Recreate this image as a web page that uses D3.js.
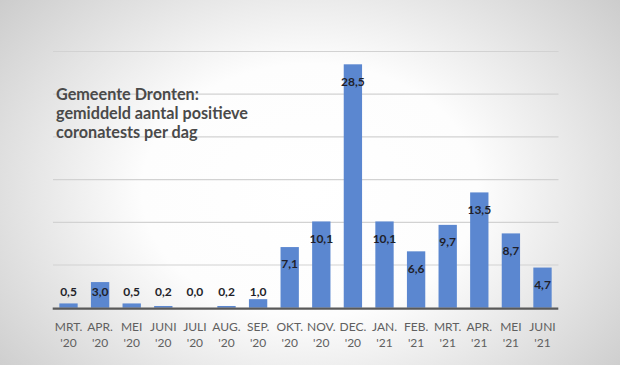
<!DOCTYPE html>
<html><head><meta charset="utf-8">
<script src="https://cdn.jsdelivr.net/npm/d3@7"></script>
<style>html,body{margin:0;padding:0;overflow:hidden;background:#fff}</style>
</head><body>
<svg id="c" width="620" height="365"></svg>
<script>
const months = ["MRT.","APR.","MEI","JUNI","JULI","AUG.","SEP.","OKT.","NOV.","DEC.","JAN.","FEB.","MRT.","APR.","MEI","JUNI"];
const years = ["'20","'20","'20","'20","'20","'20","'20","'20","'20","'20","'21","'21","'21","'21","'21","'21"];
const values = [0.5,3.0,0.5,0.2,0.0,0.2,1.0,7.1,10.1,28.5,10.1,6.6,9.7,13.5,8.7,4.7];
const labels = ["0,5","3,0","0,5","0,2","0,0","0,2","1,0","7,1","10,1","28,5","10,1","6,6","9,7","13,5","8,7","4,7"];
const gridTicks = [5,10,15,20,25,30];
const titleLines = ["Gemeente Dronten:","gemiddeld aantal positieve","coronatests per dag"];

const svg = d3.select("#c");
const defs = svg.append("defs");
const rg = defs.append("radialGradient").attr("id","bg")
  .attr("gradientUnits","userSpaceOnUse")
  .attr("cx",310).attr("cy",190).attr("r",420)
  .attr("gradientTransform","translate(310,190) scale(1,0.75) translate(-310,-190)");
rg.append("stop").attr("offset","0").attr("stop-color","#ffffff");
rg.append("stop").attr("offset","0.4").attr("stop-color","#fdfdfd");
rg.append("stop").attr("offset","1").attr("stop-color","#c8c8c8");
svg.append("rect").attr("width",620).attr("height",365).attr("fill","url(#bg)");

const idx = values.map((d,i)=>i);
const x = d3.scaleBand().domain(idx).range([52.7,558.3]).paddingInner(0.42).paddingOuter(0.21);
const y = d3.scaleLinear().domain([0,30]).range([307.7,51.5]);

// gridlines
svg.append("g").selectAll("line").data(gridTicks).join("line")
  .attr("x1",53).attr("x2",558.5)
  .attr("y1",d=>y(d)).attr("y2",d=>y(d))
  .attr("stroke","#d2d2d2").attr("stroke-width",1.2);

// bars
svg.append("g").selectAll("rect").data(values).join("rect")
  .attr("x",(d,i)=>x(i)).attr("width",x.bandwidth())
  .attr("y",d=>y(d)).attr("height",d=>y(0)-y(d))
  .attr("fill","#5b87d0");

// axis line
svg.append("line").attr("x1",52.7).attr("x2",558.3)
  .attr("y1",y(0)+1).attr("y2",y(0)+1)
  .attr("stroke","#595959").attr("stroke-width",2.2);

// value labels
svg.append("g").selectAll("text").data(values).join("text")
  .attr("x",(d,i)=>x(i)+x.bandwidth()/2)
  .attr("y",d=>Math.min(y(d)+17, y(0)-16))
  .attr("dy","0.35em")
  .attr("text-anchor","middle")
  .attr("font-family","Lato, 'Open Sans', sans-serif")
  .attr("font-weight","bold").attr("font-size",12)
  .attr("fill","#1f1f2a")
  .text((d,i)=>labels[i]);

// category labels
const cat = svg.append("g").attr("font-family","Lato, 'Open Sans', sans-serif")
  .attr("font-size",12).attr("fill","#606060").attr("text-anchor","middle");
cat.selectAll("text.m").data(months).join("text").attr("class","m")
  .attr("x",(d,i)=>x(i)+x.bandwidth()/2).attr("y",331).text(d=>d);
cat.selectAll("text.y").data(years).join("text").attr("class","y")
  .attr("x",(d,i)=>x(i)+x.bandwidth()/2).attr("y",347).text(d=>d);

// title
svg.append("g").selectAll("text").data(titleLines).join("text")
  .attr("x",56).attr("y",(d,i)=>100+i*19)
  .attr("font-family","Lato, 'Open Sans', sans-serif")
  .attr("font-weight","bold").attr("font-size",16.2)
  .attr("fill","#4a4a4a").text(d=>d);
</script>
</body></html>
